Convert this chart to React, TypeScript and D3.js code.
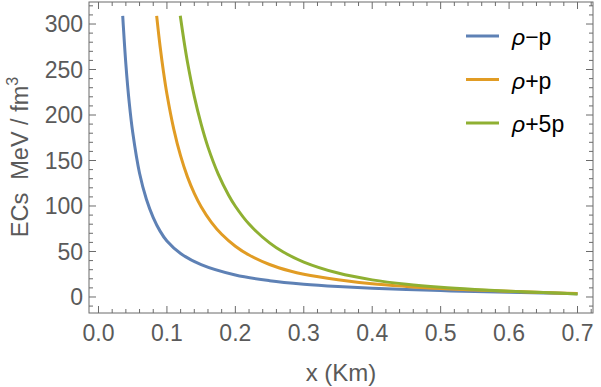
import React from "react";
import * as d3 from "d3";

const xTicks = [0, 0.1, 0.2, 0.3, 0.4, 0.5, 0.6, 0.7];
const yTicks = [0, 50, 100, 150, 200, 250, 300];

const seriesNames = ["ρ−p", "ρ+p", "ρ+5p"];
const seriesColors = ["#5E81B5", "#E19C24", "#8FB032"];

const xMinus = [0.0354, 0.04, 0.045, 0.05, 0.06, 0.07, 0.08, 0.09, 0.1, 0.12, 0.15, 0.2, 0.25, 0.3, 0.35, 0.4, 0.45, 0.5, 0.55, 0.6, 0.65, 0.7];
const yMinus = [309, 256, 213, 181, 136, 107.4, 87.3, 72.4, 61.5, 47.8, 35.6, 24.2, 17.9, 14.0, 11.4, 9.5, 8.1, 7.0, 6.0, 5.1, 4.3, 3.5];

const xPlus = [0.085, 0.09, 0.095, 0.1, 0.11, 0.12, 0.13, 0.14, 0.15, 0.165, 0.18, 0.2, 0.22, 0.25, 0.28, 0.3, 0.35, 0.4, 0.45, 0.5, 0.55, 0.6, 0.65, 0.7];
const yPlus = [309, 275.6, 247.3, 223, 184.5, 155, 132, 113.9, 99.2, 82, 68.9, 55.8, 46.1, 35.7, 28.5, 25, 19, 14.5, 11.6, 9.3, 7.8, 6.3, 5.0, 3.8];

const xPlus5 = [0.1195, 0.125, 0.13, 0.14, 0.15, 0.16, 0.175, 0.19, 0.2, 0.22, 0.25, 0.27, 0.3, 0.35, 0.4, 0.45, 0.5, 0.55, 0.6, 0.65, 0.7];
const yPlus5 = [309, 281, 258.3, 220.5, 189.9, 164.7, 135, 112.1, 99.7, 80.1, 59.4, 49.4, 38.4, 26.3, 18.8, 13.9, 10.6, 8.25, 6.4, 4.9, 3.3];

const seriesX = [xMinus, xPlus, xPlus5];
const seriesY = [yMinus, yPlus, yPlus5];

const W = 601;
const H = 387;
const left = 89;
const right = 593;
const top = 2;
const bottom = 313;

export default function App() {
  const x = d3.scaleLinear().domain([-0.01387, 0.72263]).range([left, right]);
  const y = d3.scaleLinear().domain([-17.6, 324.2]).range([bottom, top]);

  const line = d3
    .line<[number, number]>()
    .x((d) => x(d[0]))
    .y((d) => y(d[1]))
    .curve(d3.curveCatmullRom.alpha(0.5));

  const xMinor = d3.range(0, 0.7201, 0.02);
  const yMinor = d3.range(-10, 321, 10);

  const frameColor = "#6b6b6b";
  const textColor = "#5a5a5a";
  const font = "Liberation Sans, Arial, sans-serif";

  return (
    <svg
      width={W}
      height={H}
      style={{ position: "absolute", left: 0, top: 0, background: "#fff" }}
      fontFamily={font}
    >
      <defs>
        <clipPath id="plotclip">
          <rect x={left} y={top} width={right - left} height={bottom - top} />
        </clipPath>
      </defs>
      <rect x={left} y={top} width={right - left} height={bottom - top} fill="none" stroke={frameColor} strokeWidth={1} />
      {xMinor.map((v, i) => {
        const major = i % 5 === 0;
        const len = major ? 7 : 4;
        return (
          <g key={"xm" + i}>
            <line x1={x(v)} x2={x(v)} y1={bottom} y2={bottom - len} stroke={frameColor} />
            <line x1={x(v)} x2={x(v)} y1={top} y2={top + len} stroke={frameColor} />
          </g>
        );
      })}
      {yMinor.map((v, i) => {
        const major = v % 50 === 0;
        const len = major ? 7 : 4;
        return (
          <g key={"ym" + i}>
            <line x1={left} x2={left + len} y1={y(v)} y2={y(v)} stroke={frameColor} />
            <line x1={right} x2={right - len} y1={y(v)} y2={y(v)} stroke={frameColor} />
          </g>
        );
      })}
      {xTicks.map((v) => (
        <text key={"xl" + v} x={x(v)} y={341} textAnchor="middle" fontSize={23} fill={textColor}>
          {v.toFixed(1)}
        </text>
      ))}
      {yTicks.map((v) => (
        <text key={"yl" + v} x={83} y={y(v)} dy="0.36em" textAnchor="end" fontSize={23} fill={textColor}>
          {v}
        </text>
      ))}
      <text x={(left + right) / 2} y={381} textAnchor="middle" fontSize={24} fill={textColor}>
        x (Km)
      </text>
      <text transform={`translate(28,157) rotate(-90)`} textAnchor="middle" fontSize={23.5} fill={textColor}>
        <tspan>{"ECs\u00A0\u00A0MeV / fm"}</tspan>
        <tspan fontSize={16} dy={-10}>3</tspan>
      </text>
      <g clipPath="url(#plotclip)">
        {seriesX.map((xs, si) => (
          <path
            key={"s" + si}
            d={line(xs.map((xv, j) => [xv, seriesY[si][j]] as [number, number])) || ""}
            fill="none"
            stroke={seriesColors[si]}
            strokeWidth={3}
          />
        ))}
      </g>
      {seriesNames.map((n, i) => (
        <g key={"lg" + i} transform={`translate(0, ${36 + i * 43.5})`}>
          <line x1={466} x2={499} y1={0} y2={0} stroke={seriesColors[i]} strokeWidth={3} />
          <text x={512} y={9} fontSize={23} fill="#000">
            <tspan fontStyle="italic">ρ</tspan>
            {n.slice(1)}
          </text>
        </g>
      ))}
    </svg>
  );
}
